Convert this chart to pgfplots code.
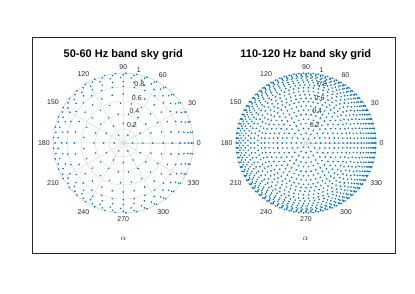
\documentclass[border=0pt]{standalone}
\usepackage{fontspec}
\setmainfont{Liberation Sans}
\usepackage{pgfplots}
\usepackage{pgfplotstable}
\usepgfplotslibrary{polar}
\pgfplotsset{compat=1.18}
\definecolor{mblue}{rgb}{0,0.447,0.741}
\definecolor{mgrid}{gray}{0.86}
\definecolor{mtext}{gray}{0.15}
\pgfplotsset{skygrid/.style={
  scale only axis, width=140pt, height=140pt,
  ymin=0, ymax=1, clip=false,
  xtick={0,30,...,330},
  ytick={0.2,0.4,0.6,0.8,1},
  yticklabels={},
  grid=major,
  grid style={draw=mgrid, line width=0.5pt},
  major grid style={draw=mgrid, line width=0.5pt},
  axis line style={draw=mgrid, line width=0.6pt},
  major tick length=0pt,
  /pgf/number format/assume math mode=true,
  xticklabel={\pgfmathprintnumber{\tick}},
  xticklabel style={font=\fontsize{7}{8}\selectfont, text=mtext},
  anchor=center,
},
dots/.style={only marks, color=mblue, mark=*, mark size=0.55pt, mark options={draw=none, fill=mblue}}}
\tikzset{rlab/.style={anchor=south west, inner sep=1.2pt, font=\fontsize{7}{8}\selectfont, text=mtext}}
\pgfplotstableread{
a r1 r2
0 0.97 0.985
4.1 0.97 0.985
8.2 0.97 0.985
12.3 0.97 0.985
16.4 0.97 0.985
20.5 0.97 0.985
24.5 0.97 0.985
28.6 0.97 0.985
32.7 0.97 0.985
36.8 0.97 0.985
40.9 0.97 0.985
45 0.97 0.985
49.1 0.97 0.985
53.2 0.97 0.985
57.3 0.97 0.985
61.4 0.97 0.985
65.5 0.97 0.985
69.5 0.97 0.985
73.6 0.97 0.985
77.7 0.97 0.985
81.8 0.97 0.985
85.9 0.97 0.985
90 0.97 0.985
94.1 0.97 0.985
98.2 0.97 0.985
102.3 0.97 0.985
106.4 0.97 0.985
110.5 0.97 0.985
114.5 0.97 0.985
118.6 0.97 0.985
122.7 0.97 0.985
126.8 0.97 0.985
130.9 0.97 0.985
135 0.97 0.985
139.1 0.97 0.985
143.2 0.97 0.985
147.3 0.97 0.985
151.4 0.97 0.985
155.5 0.97 0.985
159.5 0.97 0.985
163.6 0.97 0.985
167.7 0.97 0.985
171.8 0.97 0.985
175.9 0.97 0.985
180 0.97 0.985
184.1 0.97 0.985
188.2 0.97 0.985
192.3 0.97 0.985
196.4 0.97 0.985
200.5 0.97 0.985
204.5 0.97 0.985
208.6 0.97 0.985
212.7 0.97 0.985
216.8 0.97 0.985
220.9 0.97 0.985
225 0.97 0.985
229.1 0.97 0.985
233.2 0.97 0.985
237.3 0.97 0.985
241.4 0.97 0.985
245.5 0.97 0.985
249.5 0.97 0.985
253.6 0.97 0.985
257.7 0.97 0.985
261.8 0.97 0.985
265.9 0.97 0.985
270 0.97 0.985
274.1 0.97 0.985
278.2 0.97 0.985
282.3 0.97 0.985
286.4 0.97 0.985
290.5 0.97 0.985
294.5 0.97 0.985
298.6 0.97 0.985
302.7 0.97 0.985
306.8 0.97 0.985
310.9 0.97 0.985
315 0.97 0.985
319.1 0.97 0.985
323.2 0.97 0.985
327.3 0.97 0.985
331.4 0.97 0.985
335.5 0.97 0.985
339.5 0.97 0.985
343.6 0.97 0.985
347.7 0.97 0.985
351.8 0.97 0.985
355.9 0.97 0.985
}\outerrings
\begin{document}
\begin{tikzpicture}[x=1pt,y=1pt]
\path[use as bounding box] (0,0) rectangle (415,294);
\draw[black!85, line width=0.7pt] (32.3,40.7) rectangle (395.7,256.3);
\begin{polaraxis}[skygrid, at={(123.3pt,151pt)}]
\addplot[dots] coordinates {
(0,0.13)(60,0.13)(120,0.13)(180,0.13)(240,0.13)(300,0.13)
(0,0.28)(30,0.28)(60,0.28)(90,0.28)(120,0.28)(150,0.28)(180,0.28)(210,0.28)(240,0.28)(270,0.28)(300,0.28)(330,0.28)
(0,0.42)(20,0.42)(40,0.42)(60,0.42)(80,0.42)(100,0.42)(120,0.42)(140,0.42)(160,0.42)(180,0.42)(200,0.42)(220,0.42)(240,0.42)(260,0.42)(280,0.42)(300,0.42)(320,0.42)(340,0.42)
(0,0.57)(16,0.57)(31,0.57)(47,0.57)(63,0.57)(78,0.57)(94,0.57)(110,0.57)(125,0.57)(141,0.57)(157,0.57)(172,0.57)(188,0.57)(203,0.57)(219,0.57)(235,0.57)(250,0.57)(266,0.57)(282,0.57)(297,0.57)(313,0.57)(329,0.57)(344,0.57)
(0,0.7)(13,0.7)(26,0.7)(39,0.7)(51,0.7)(64,0.7)(77,0.7)(90,0.7)(103,0.7)(116,0.7)(129,0.7)(141,0.7)(154,0.7)(167,0.7)(180,0.7)(193,0.7)(206,0.7)(219,0.7)(231,0.7)(244,0.7)(257,0.7)(270,0.7)(283,0.7)(296,0.7)(309,0.7)(321,0.7)(334,0.7)(347,0.7)
(0,0.81)(11.25,0.81)(22.5,0.81)(33.75,0.81)(45,0.81)(56.25,0.81)(67.5,0.81)(78.75,0.81)(90,0.81)(101.25,0.81)(112.5,0.81)(123.75,0.81)(135,0.81)(146.25,0.81)(157.5,0.81)(168.75,0.81)(180,0.81)(191.25,0.81)(202.5,0.81)(213.75,0.81)(225,0.81)(236.25,0.81)(247.5,0.81)(258.75,0.81)(270,0.81)(281.25,0.81)(292.5,0.81)(303.75,0.81)(315,0.81)(326.25,0.81)(337.5,0.81)(348.75,0.81)
(0,0.88)(10,0.88)(20,0.88)(30,0.88)(40,0.88)(50,0.88)(60,0.88)(70,0.88)(80,0.88)(90,0.88)(100,0.88)(110,0.88)(120,0.88)(130,0.88)(140,0.88)(150,0.88)(160,0.88)(170,0.88)(180,0.88)(190,0.88)(200,0.88)(210,0.88)(220,0.88)(230,0.88)(240,0.88)(250,0.88)(260,0.88)(270,0.88)(280,0.88)(290,0.88)(300,0.88)(310,0.88)(320,0.88)(330,0.88)(340,0.88)(350,0.88)
(0,0.935)(9.2,0.935)(18.5,0.935)(27.7,0.935)(36.9,0.935)(46.2,0.935)(55.4,0.935)(64.6,0.935)(73.8,0.935)(83.1,0.935)(92.3,0.935)(101.5,0.935)(110.8,0.935)(120,0.935)(129.2,0.935)(138.5,0.935)(147.7,0.935)(156.9,0.935)(166.2,0.935)(175.4,0.935)(184.6,0.935)(193.8,0.935)(203.1,0.935)(212.3,0.935)(221.5,0.935)(230.8,0.935)(240,0.935)(249.2,0.935)(258.5,0.935)(267.7,0.935)(276.9,0.935)(286.2,0.935)(295.4,0.935)(304.6,0.935)(313.8,0.935)(323.1,0.935)(332.3,0.935)(341.5,0.935)(350.8,0.935)
(0,0.975)(9,0.975)(18,0.975)(27,0.975)(36,0.975)(45,0.975)(54,0.975)(63,0.975)(72,0.975)(81,0.975)(90,0.975)(99,0.975)(108,0.975)(117,0.975)(126,0.975)(135,0.975)(144,0.975)(153,0.975)(162,0.975)(171,0.975)(180,0.975)(189,0.975)(198,0.975)(207,0.975)(216,0.975)(225,0.975)(234,0.975)(243,0.975)(252,0.975)(261,0.975)(270,0.975)(279,0.975)(288,0.975)(297,0.975)(306,0.975)(315,0.975)(324,0.975)(333,0.975)(342,0.975)(351,0.975)
(0,0.998)(8.8,0.998)(17.6,0.998)(26.3,0.998)(35.1,0.998)(43.9,0.998)(52.7,0.998)(61.5,0.998)(70.2,0.998)(79,0.998)(87.8,0.998)(96.6,0.998)(105.4,0.998)(114.1,0.998)(122.9,0.998)(131.7,0.998)(140.5,0.998)(149.3,0.998)(158,0.998)(166.8,0.998)(175.6,0.998)(184.4,0.998)(193.2,0.998)(202,0.998)(210.7,0.998)(219.5,0.998)(228.3,0.998)(237.1,0.998)(245.9,0.998)(254.6,0.998)(263.4,0.998)(272.2,0.998)(281,0.998)(289.8,0.998)(298.5,0.998)(307.3,0.998)(316.1,0.998)(324.9,0.998)(333.7,0.998)(342.4,0.998)(351.2,0.998)
};
\node[rlab] at (axis cs:80,0.2) {0.2};
\node[rlab] at (axis cs:80,0.4) {0.4};
\node[rlab] at (axis cs:80,0.6) {0.6};
\node[rlab] at (axis cs:80,0.8) {0.8};
\node[rlab] at (axis cs:80,1) {1};
\end{polaraxis}
\begin{polaraxis}[skygrid, at={(306pt,151pt)}]
\addplot[dots] coordinates {
(0,0.07)(60,0.07)(120,0.07)(180,0.07)(240,0.07)(300,0.07)
(0,0.14)(30,0.14)(60,0.14)(90,0.14)(120,0.14)(150,0.14)(180,0.14)(210,0.14)(240,0.14)(270,0.14)(300,0.14)(330,0.14)
(0,0.21)(20,0.21)(40,0.21)(60,0.21)(80,0.21)(100,0.21)(120,0.21)(140,0.21)(160,0.21)(180,0.21)(200,0.21)(220,0.21)(240,0.21)(260,0.21)(280,0.21)(300,0.21)(320,0.21)(340,0.21)
(0,0.28)(15,0.28)(30,0.28)(45,0.28)(60,0.28)(75,0.28)(90,0.28)(105,0.28)(120,0.28)(135,0.28)(150,0.28)(165,0.28)(180,0.28)(195,0.28)(210,0.28)(225,0.28)(240,0.28)(255,0.28)(270,0.28)(285,0.28)(300,0.28)(315,0.28)(330,0.28)(345,0.28)
(0,0.34)(12,0.34)(24,0.34)(36,0.34)(48,0.34)(60,0.34)(72,0.34)(84,0.34)(96,0.34)(108,0.34)(120,0.34)(132,0.34)(144,0.34)(156,0.34)(168,0.34)(180,0.34)(192,0.34)(204,0.34)(216,0.34)(228,0.34)(240,0.34)(252,0.34)(264,0.34)(276,0.34)(288,0.34)(300,0.34)(312,0.34)(324,0.34)(336,0.34)(348,0.34)
(0,0.41)(10,0.41)(20,0.41)(30,0.41)(40,0.41)(50,0.41)(60,0.41)(70,0.41)(80,0.41)(90,0.41)(100,0.41)(110,0.41)(120,0.41)(130,0.41)(140,0.41)(150,0.41)(160,0.41)(170,0.41)(180,0.41)(190,0.41)(200,0.41)(210,0.41)(220,0.41)(230,0.41)(240,0.41)(250,0.41)(260,0.41)(270,0.41)(280,0.41)(290,0.41)(300,0.41)(310,0.41)(320,0.41)(330,0.41)(340,0.41)(350,0.41)
(0,0.47)(8.6,0.47)(17.1,0.47)(25.7,0.47)(34.3,0.47)(42.9,0.47)(51.4,0.47)(60,0.47)(68.6,0.47)(77.1,0.47)(85.7,0.47)(94.3,0.47)(102.9,0.47)(111.4,0.47)(120,0.47)(128.6,0.47)(137.1,0.47)(145.7,0.47)(154.3,0.47)(162.9,0.47)(171.4,0.47)(180,0.47)(188.6,0.47)(197.1,0.47)(205.7,0.47)(214.3,0.47)(222.9,0.47)(231.4,0.47)(240,0.47)(248.6,0.47)(257.1,0.47)(265.7,0.47)(274.3,0.47)(282.9,0.47)(291.4,0.47)(300,0.47)(308.6,0.47)(317.1,0.47)(325.7,0.47)(334.3,0.47)(342.9,0.47)(351.4,0.47)
(0,0.53)(7.5,0.53)(15,0.53)(22.5,0.53)(30,0.53)(37.5,0.53)(45,0.53)(52.5,0.53)(60,0.53)(67.5,0.53)(75,0.53)(82.5,0.53)(90,0.53)(97.5,0.53)(105,0.53)(112.5,0.53)(120,0.53)(127.5,0.53)(135,0.53)(142.5,0.53)(150,0.53)(157.5,0.53)(165,0.53)(172.5,0.53)(180,0.53)(187.5,0.53)(195,0.53)(202.5,0.53)(210,0.53)(217.5,0.53)(225,0.53)(232.5,0.53)(240,0.53)(247.5,0.53)(255,0.53)(262.5,0.53)(270,0.53)(277.5,0.53)(285,0.53)(292.5,0.53)(300,0.53)(307.5,0.53)(315,0.53)(322.5,0.53)(330,0.53)(337.5,0.53)(345,0.53)(352.5,0.53)
(0,0.59)(6.7,0.59)(13.3,0.59)(20,0.59)(26.7,0.59)(33.3,0.59)(40,0.59)(46.7,0.59)(53.3,0.59)(60,0.59)(66.7,0.59)(73.3,0.59)(80,0.59)(86.7,0.59)(93.3,0.59)(100,0.59)(106.7,0.59)(113.3,0.59)(120,0.59)(126.7,0.59)(133.3,0.59)(140,0.59)(146.7,0.59)(153.3,0.59)(160,0.59)(166.7,0.59)(173.3,0.59)(180,0.59)(186.7,0.59)(193.3,0.59)(200,0.59)(206.7,0.59)(213.3,0.59)(220,0.59)(226.7,0.59)(233.3,0.59)(240,0.59)(246.7,0.59)(253.3,0.59)(260,0.59)(266.7,0.59)(273.3,0.59)(280,0.59)(286.7,0.59)(293.3,0.59)(300,0.59)(306.7,0.59)(313.3,0.59)(320,0.59)(326.7,0.59)(333.3,0.59)(340,0.59)(346.7,0.59)(353.3,0.59)
(0,0.64)(6.4,0.64)(12.9,0.64)(19.3,0.64)(25.7,0.64)(32.1,0.64)(38.6,0.64)(45,0.64)(51.4,0.64)(57.9,0.64)(64.3,0.64)(70.7,0.64)(77.1,0.64)(83.6,0.64)(90,0.64)(96.4,0.64)(102.9,0.64)(109.3,0.64)(115.7,0.64)(122.1,0.64)(128.6,0.64)(135,0.64)(141.4,0.64)(147.9,0.64)(154.3,0.64)(160.7,0.64)(167.1,0.64)(173.6,0.64)(180,0.64)(186.4,0.64)(192.9,0.64)(199.3,0.64)(205.7,0.64)(212.1,0.64)(218.6,0.64)(225,0.64)(231.4,0.64)(237.9,0.64)(244.3,0.64)(250.7,0.64)(257.1,0.64)(263.6,0.64)(270,0.64)(276.4,0.64)(282.9,0.64)(289.3,0.64)(295.7,0.64)(302.1,0.64)(308.6,0.64)(315,0.64)(321.4,0.64)(327.9,0.64)(334.3,0.64)(340.7,0.64)(347.1,0.64)(353.6,0.64)
(0,0.69)(5.7,0.69)(11.4,0.69)(17.1,0.69)(22.9,0.69)(28.6,0.69)(34.3,0.69)(40,0.69)(45.7,0.69)(51.4,0.69)(57.1,0.69)(62.9,0.69)(68.6,0.69)(74.3,0.69)(80,0.69)(85.7,0.69)(91.4,0.69)(97.1,0.69)(102.9,0.69)(108.6,0.69)(114.3,0.69)(120,0.69)(125.7,0.69)(131.4,0.69)(137.1,0.69)(142.9,0.69)(148.6,0.69)(154.3,0.69)(160,0.69)(165.7,0.69)(171.4,0.69)(177.1,0.69)(182.9,0.69)(188.6,0.69)(194.3,0.69)(200,0.69)(205.7,0.69)(211.4,0.69)(217.1,0.69)(222.9,0.69)(228.6,0.69)(234.3,0.69)(240,0.69)(245.7,0.69)(251.4,0.69)(257.1,0.69)(262.9,0.69)(268.6,0.69)(274.3,0.69)(280,0.69)(285.7,0.69)(291.4,0.69)(297.1,0.69)(302.9,0.69)(308.6,0.69)(314.3,0.69)(320,0.69)(325.7,0.69)(331.4,0.69)(337.1,0.69)(342.9,0.69)(348.6,0.69)(354.3,0.69)
(0,0.74)(5.5,0.74)(10.9,0.74)(16.4,0.74)(21.8,0.74)(27.3,0.74)(32.7,0.74)(38.2,0.74)(43.6,0.74)(49.1,0.74)(54.5,0.74)(60,0.74)(65.5,0.74)(70.9,0.74)(76.4,0.74)(81.8,0.74)(87.3,0.74)(92.7,0.74)(98.2,0.74)(103.6,0.74)(109.1,0.74)(114.5,0.74)(120,0.74)(125.5,0.74)(130.9,0.74)(136.4,0.74)(141.8,0.74)(147.3,0.74)(152.7,0.74)(158.2,0.74)(163.6,0.74)(169.1,0.74)(174.5,0.74)(180,0.74)(185.5,0.74)(190.9,0.74)(196.4,0.74)(201.8,0.74)(207.3,0.74)(212.7,0.74)(218.2,0.74)(223.6,0.74)(229.1,0.74)(234.5,0.74)(240,0.74)(245.5,0.74)(250.9,0.74)(256.4,0.74)(261.8,0.74)(267.3,0.74)(272.7,0.74)(278.2,0.74)(283.6,0.74)(289.1,0.74)(294.5,0.74)(300,0.74)(305.5,0.74)(310.9,0.74)(316.4,0.74)(321.8,0.74)(327.3,0.74)(332.7,0.74)(338.2,0.74)(343.6,0.74)(349.1,0.74)(354.5,0.74)
(0,0.79)(5.1,0.79)(10.3,0.79)(15.4,0.79)(20.6,0.79)(25.7,0.79)(30.9,0.79)(36,0.79)(41.1,0.79)(46.3,0.79)(51.4,0.79)(56.6,0.79)(61.7,0.79)(66.9,0.79)(72,0.79)(77.1,0.79)(82.3,0.79)(87.4,0.79)(92.6,0.79)(97.7,0.79)(102.9,0.79)(108,0.79)(113.1,0.79)(118.3,0.79)(123.4,0.79)(128.6,0.79)(133.7,0.79)(138.9,0.79)(144,0.79)(149.1,0.79)(154.3,0.79)(159.4,0.79)(164.6,0.79)(169.7,0.79)(174.9,0.79)(180,0.79)(185.1,0.79)(190.3,0.79)(195.4,0.79)(200.6,0.79)(205.7,0.79)(210.9,0.79)(216,0.79)(221.1,0.79)(226.3,0.79)(231.4,0.79)(236.6,0.79)(241.7,0.79)(246.9,0.79)(252,0.79)(257.1,0.79)(262.3,0.79)(267.4,0.79)(272.6,0.79)(277.7,0.79)(282.9,0.79)(288,0.79)(293.1,0.79)(298.3,0.79)(303.4,0.79)(308.6,0.79)(313.7,0.79)(318.9,0.79)(324,0.79)(329.1,0.79)(334.3,0.79)(339.4,0.79)(344.6,0.79)(349.7,0.79)(354.9,0.79)
(0,0.83)(4.8,0.83)(9.6,0.83)(14.4,0.83)(19.2,0.83)(24,0.83)(28.8,0.83)(33.6,0.83)(38.4,0.83)(43.2,0.83)(48,0.83)(52.8,0.83)(57.6,0.83)(62.4,0.83)(67.2,0.83)(72,0.83)(76.8,0.83)(81.6,0.83)(86.4,0.83)(91.2,0.83)(96,0.83)(100.8,0.83)(105.6,0.83)(110.4,0.83)(115.2,0.83)(120,0.83)(124.8,0.83)(129.6,0.83)(134.4,0.83)(139.2,0.83)(144,0.83)(148.8,0.83)(153.6,0.83)(158.4,0.83)(163.2,0.83)(168,0.83)(172.8,0.83)(177.6,0.83)(182.4,0.83)(187.2,0.83)(192,0.83)(196.8,0.83)(201.6,0.83)(206.4,0.83)(211.2,0.83)(216,0.83)(220.8,0.83)(225.6,0.83)(230.4,0.83)(235.2,0.83)(240,0.83)(244.8,0.83)(249.6,0.83)(254.4,0.83)(259.2,0.83)(264,0.83)(268.8,0.83)(273.6,0.83)(278.4,0.83)(283.2,0.83)(288,0.83)(292.8,0.83)(297.6,0.83)(302.4,0.83)(307.2,0.83)(312,0.83)(316.8,0.83)(321.6,0.83)(326.4,0.83)(331.2,0.83)(336,0.83)(340.8,0.83)(345.6,0.83)(350.4,0.83)(355.2,0.83)
(0,0.87)(4.6,0.87)(9.2,0.87)(13.8,0.87)(18.5,0.87)(23.1,0.87)(27.7,0.87)(32.3,0.87)(36.9,0.87)(41.5,0.87)(46.2,0.87)(50.8,0.87)(55.4,0.87)(60,0.87)(64.6,0.87)(69.2,0.87)(73.8,0.87)(78.5,0.87)(83.1,0.87)(87.7,0.87)(92.3,0.87)(96.9,0.87)(101.5,0.87)(106.2,0.87)(110.8,0.87)(115.4,0.87)(120,0.87)(124.6,0.87)(129.2,0.87)(133.8,0.87)(138.5,0.87)(143.1,0.87)(147.7,0.87)(152.3,0.87)(156.9,0.87)(161.5,0.87)(166.2,0.87)(170.8,0.87)(175.4,0.87)(180,0.87)(184.6,0.87)(189.2,0.87)(193.8,0.87)(198.5,0.87)(203.1,0.87)(207.7,0.87)(212.3,0.87)(216.9,0.87)(221.5,0.87)(226.2,0.87)(230.8,0.87)(235.4,0.87)(240,0.87)(244.6,0.87)(249.2,0.87)(253.8,0.87)(258.5,0.87)(263.1,0.87)(267.7,0.87)(272.3,0.87)(276.9,0.87)(281.5,0.87)(286.2,0.87)(290.8,0.87)(295.4,0.87)(300,0.87)(304.6,0.87)(309.2,0.87)(313.8,0.87)(318.5,0.87)(323.1,0.87)(327.7,0.87)(332.3,0.87)(336.9,0.87)(341.5,0.87)(346.2,0.87)(350.8,0.87)(355.4,0.87)
(0,0.9)(4.4,0.9)(8.9,0.9)(13.3,0.9)(17.8,0.9)(22.2,0.9)(26.7,0.9)(31.1,0.9)(35.6,0.9)(40,0.9)(44.4,0.9)(48.9,0.9)(53.3,0.9)(57.8,0.9)(62.2,0.9)(66.7,0.9)(71.1,0.9)(75.6,0.9)(80,0.9)(84.4,0.9)(88.9,0.9)(93.3,0.9)(97.8,0.9)(102.2,0.9)(106.7,0.9)(111.1,0.9)(115.6,0.9)(120,0.9)(124.4,0.9)(128.9,0.9)(133.3,0.9)(137.8,0.9)(142.2,0.9)(146.7,0.9)(151.1,0.9)(155.6,0.9)(160,0.9)(164.4,0.9)(168.9,0.9)(173.3,0.9)(177.8,0.9)(182.2,0.9)(186.7,0.9)(191.1,0.9)(195.6,0.9)(200,0.9)(204.4,0.9)(208.9,0.9)(213.3,0.9)(217.8,0.9)(222.2,0.9)(226.7,0.9)(231.1,0.9)(235.6,0.9)(240,0.9)(244.4,0.9)(248.9,0.9)(253.3,0.9)(257.8,0.9)(262.2,0.9)(266.7,0.9)(271.1,0.9)(275.6,0.9)(280,0.9)(284.4,0.9)(288.9,0.9)(293.3,0.9)(297.8,0.9)(302.2,0.9)(306.7,0.9)(311.1,0.9)(315.6,0.9)(320,0.9)(324.4,0.9)(328.9,0.9)(333.3,0.9)(337.8,0.9)(342.2,0.9)(346.7,0.9)(351.1,0.9)(355.6,0.9)
(0,0.93)(4.3,0.93)(8.6,0.93)(12.9,0.93)(17.1,0.93)(21.4,0.93)(25.7,0.93)(30,0.93)(34.3,0.93)(38.6,0.93)(42.9,0.93)(47.1,0.93)(51.4,0.93)(55.7,0.93)(60,0.93)(64.3,0.93)(68.6,0.93)(72.9,0.93)(77.1,0.93)(81.4,0.93)(85.7,0.93)(90,0.93)(94.3,0.93)(98.6,0.93)(102.9,0.93)(107.1,0.93)(111.4,0.93)(115.7,0.93)(120,0.93)(124.3,0.93)(128.6,0.93)(132.9,0.93)(137.1,0.93)(141.4,0.93)(145.7,0.93)(150,0.93)(154.3,0.93)(158.6,0.93)(162.9,0.93)(167.1,0.93)(171.4,0.93)(175.7,0.93)(180,0.93)(184.3,0.93)(188.6,0.93)(192.9,0.93)(197.1,0.93)(201.4,0.93)(205.7,0.93)(210,0.93)(214.3,0.93)(218.6,0.93)(222.9,0.93)(227.1,0.93)(231.4,0.93)(235.7,0.93)(240,0.93)(244.3,0.93)(248.6,0.93)(252.9,0.93)(257.1,0.93)(261.4,0.93)(265.7,0.93)(270,0.93)(274.3,0.93)(278.6,0.93)(282.9,0.93)(287.1,0.93)(291.4,0.93)(295.7,0.93)(300,0.93)(304.3,0.93)(308.6,0.93)(312.9,0.93)(317.1,0.93)(321.4,0.93)(325.7,0.93)(330,0.93)(334.3,0.93)(338.6,0.93)(342.9,0.93)(347.1,0.93)(351.4,0.93)(355.7,0.93)
(0,0.95)(4.2,0.95)(8.5,0.95)(12.7,0.95)(16.9,0.95)(21.2,0.95)(25.4,0.95)(29.6,0.95)(33.9,0.95)(38.1,0.95)(42.4,0.95)(46.6,0.95)(50.8,0.95)(55.1,0.95)(59.3,0.95)(63.5,0.95)(67.8,0.95)(72,0.95)(76.2,0.95)(80.5,0.95)(84.7,0.95)(88.9,0.95)(93.2,0.95)(97.4,0.95)(101.6,0.95)(105.9,0.95)(110.1,0.95)(114.4,0.95)(118.6,0.95)(122.8,0.95)(127.1,0.95)(131.3,0.95)(135.5,0.95)(139.8,0.95)(144,0.95)(148.2,0.95)(152.5,0.95)(156.7,0.95)(160.9,0.95)(165.2,0.95)(169.4,0.95)(173.6,0.95)(177.9,0.95)(182.1,0.95)(186.4,0.95)(190.6,0.95)(194.8,0.95)(199.1,0.95)(203.3,0.95)(207.5,0.95)(211.8,0.95)(216,0.95)(220.2,0.95)(224.5,0.95)(228.7,0.95)(232.9,0.95)(237.2,0.95)(241.4,0.95)(245.6,0.95)(249.9,0.95)(254.1,0.95)(258.4,0.95)(262.6,0.95)(266.8,0.95)(271.1,0.95)(275.3,0.95)(279.5,0.95)(283.8,0.95)(288,0.95)(292.2,0.95)(296.5,0.95)(300.7,0.95)(304.9,0.95)(309.2,0.95)(313.4,0.95)(317.6,0.95)(321.9,0.95)(326.1,0.95)(330.4,0.95)(334.6,0.95)(338.8,0.95)(343.1,0.95)(347.3,0.95)(351.5,0.95)(355.8,0.95)
(0,0.998)(4,0.998)(8,0.998)(12,0.998)(16,0.998)(20,0.998)(24,0.998)(28,0.998)(32,0.998)(36,0.998)(40,0.998)(44,0.998)(48,0.998)(52,0.998)(56,0.998)(60,0.998)(64,0.998)(68,0.998)(72,0.998)(76,0.998)(80,0.998)(84,0.998)(88,0.998)(92,0.998)(96,0.998)(100,0.998)(104,0.998)(108,0.998)(112,0.998)(116,0.998)(120,0.998)(124,0.998)(128,0.998)(132,0.998)(136,0.998)(140,0.998)(144,0.998)(148,0.998)(152,0.998)(156,0.998)(160,0.998)(164,0.998)(168,0.998)(172,0.998)(176,0.998)(180,0.998)(184,0.998)(188,0.998)(192,0.998)(196,0.998)(200,0.998)(204,0.998)(208,0.998)(212,0.998)(216,0.998)(220,0.998)(224,0.998)(228,0.998)(232,0.998)(236,0.998)(240,0.998)(244,0.998)(248,0.998)(252,0.998)(256,0.998)(260,0.998)(264,0.998)(268,0.998)(272,0.998)(276,0.998)(280,0.998)(284,0.998)(288,0.998)(292,0.998)(296,0.998)(300,0.998)(304,0.998)(308,0.998)(312,0.998)(316,0.998)(320,0.998)(324,0.998)(328,0.998)(332,0.998)(336,0.998)(340,0.998)(344,0.998)(348,0.998)(352,0.998)(356,0.998)
};
\addplot[dots] table[x=a, y=r1] {\outerrings};
\addplot[dots] table[x=a, y=r2] {\outerrings};
\node[rlab] at (axis cs:80,0.2) {0.2};
\node[rlab] at (axis cs:80,0.4) {0.4};
\node[rlab] at (axis cs:80,0.6) {0.6};
\node[rlab] at (axis cs:80,0.8) {0.8};
\node[rlab] at (axis cs:80,1) {1};
\end{polaraxis}
\node[font=\fontsize{11}{13}\selectfont\bfseries] at (123.3,239) {50-60 Hz band sky grid};
\node[font=\fontsize{11}{13}\selectfont\bfseries] at (305.8,239) {110-120 Hz band sky grid};
\node[font=\fontsize{8}{9}\selectfont, text=mtext] at (123.3,55.7) {$\alpha$};
\node[font=\fontsize{8}{9}\selectfont, text=mtext] at (305.5,55.7) {$\alpha$};
\end{tikzpicture}
\end{document}
